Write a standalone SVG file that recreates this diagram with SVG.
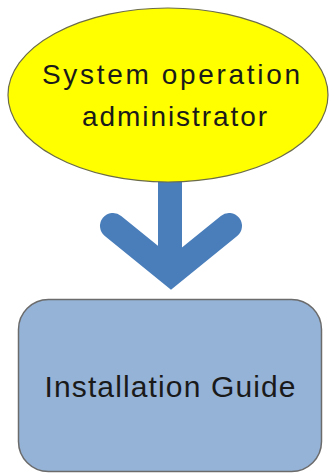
<svg xmlns="http://www.w3.org/2000/svg" width="330" height="473" viewBox="0 0 330 473">
<style>
.lbl{font-family:"Liberation Sans",Arial,sans-serif;fill:#1a1a1a;text-anchor:middle}
</style>
<rect width="330" height="473" fill="#ffffff"/>
<g id="connectors">
<path d="M170,150 V260" stroke="#4a7ebb" stroke-width="24" fill="none"/>
<polyline points="113,226 171,273 229,226" fill="none" stroke="#4a7ebb" stroke-width="26" stroke-linecap="round" stroke-linejoin="miter" stroke-miterlimit="4"/>
</g>
<g id="admin">
<ellipse cx="168" cy="95" rx="160" ry="87" fill="#ffff00" stroke="#6b6b4a" stroke-width="1.2"/>
<text class="lbl" x="171" y="84" font-size="28" textLength="258" lengthAdjust="spacing">System operation</text>
<text class="lbl" x="174.5" y="126" font-size="28" textLength="185" lengthAdjust="spacing">administrator</text>
</g>
<g id="guide">
<rect x="18.5" y="299.5" width="303" height="172" rx="30" ry="30" fill="#95b3d7" stroke="#6b6b6b" stroke-width="1.5"/>
<text class="lbl" x="170" y="397" font-size="30" textLength="251" lengthAdjust="spacing">Installation Guide</text>
</g>
</svg>
